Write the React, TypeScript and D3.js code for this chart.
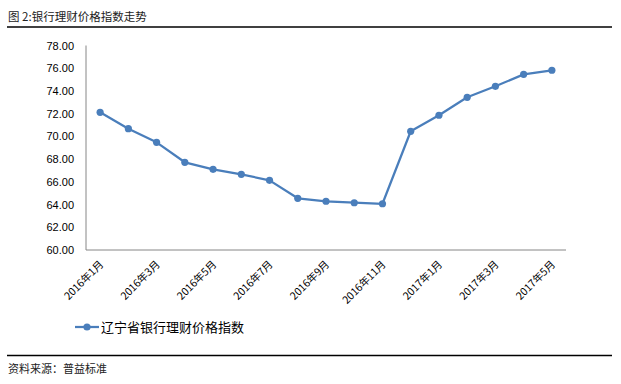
import React from "react";
import * as d3 from "d3";

const months = ["2016年1月","2016年2月","2016年3月","2016年4月","2016年5月","2016年6月","2016年7月","2016年8月","2016年9月","2016年10月","2016年11月","2016年12月","2017年1月","2017年2月","2017年3月","2017年4月","2017年5月"];
const values = [72.12,70.68,69.48,67.72,67.10,66.66,66.13,64.55,64.29,64.16,64.07,70.45,71.86,73.44,74.41,75.46,75.82];
const yTicks = [60,62,64,66,68,70,72,74,76,78];
const seriesName = "辽宁省银行理财价格指数";
const title = "图 2:银行理财价格指数走势";
const source = "资料来源：普益标准";

const W = 621, H = 384;
const left = 86, right = 566, top = 45.5, bottom = 250;
const font = "'Liberation Sans', 'Noto Sans CJK SC', sans-serif";
const cjk = "'Noto Sans CJK SC', 'Liberation Sans', sans-serif";
const color = "#4a7ebb";

export default function App() {
  const x = d3.scaleBand<string>().domain(months).range([left, right]);
  const y = d3.scaleLinear().domain([60, 78]).range([bottom, top]);
  const cx = (m: string) => (x(m) as number) + x.bandwidth() / 2;
  const line = d3.line<number>().x((_, i) => cx(months[i])).y(d => y(d));
  return (
    <svg width={W} height={H} style={{ position: "absolute", left: 0, top: 0, background: "#fff" }}>
      <text x={8} y={21} fontFamily={cjk} fontSize={11.5} fill="#222">{title}</text>
      <line x1={7} x2={612} y1={27} y2={27} stroke="#000" strokeWidth={1.5} />
      <line x1={left} x2={left} y1={top} y2={bottom} stroke="#868686" strokeWidth={1} />
      <line x1={left} x2={right} y1={bottom} y2={bottom} stroke="#868686" strokeWidth={1} />
      {yTicks.map(t => (
        <text key={t} x={74} y={y(t) + 4} textAnchor="end" fontFamily={font} fontSize={11} fill="#000">{t.toFixed(2)}</text>
      ))}
      {months.map((m, i) => i % 2 === 0 ? (
        <text key={m} transform={`translate(${cx(m) + 4},${bottom + 15}) rotate(-45)`} textAnchor="end" fontFamily={cjk} fontSize={10.5} fill="#000">{m}</text>
      ) : null)}
      <path d={line(values) || ""} fill="none" stroke={color} strokeWidth={2.25} strokeLinejoin="round" />
      {values.map((v, i) => (
        <circle key={i} cx={cx(months[i])} cy={y(v)} r={3.6} fill={color} />
      ))}
      <line x1={75} x2={99} y1={327} y2={327} stroke={color} strokeWidth={2.25} />
      <circle cx={87} cy={327} r={3.6} fill={color} />
      <text x={101} y={332} fontFamily={cjk} fontSize={13} fill="#000">{seriesName}</text>
      <line x1={7} x2={612} y1={355.5} y2={355.5} stroke="#000" strokeWidth={1.5} />
      <text x={8} y={373} fontFamily={cjk} fontSize={11} fill="#222">{source}</text>
    </svg>
  );
}
